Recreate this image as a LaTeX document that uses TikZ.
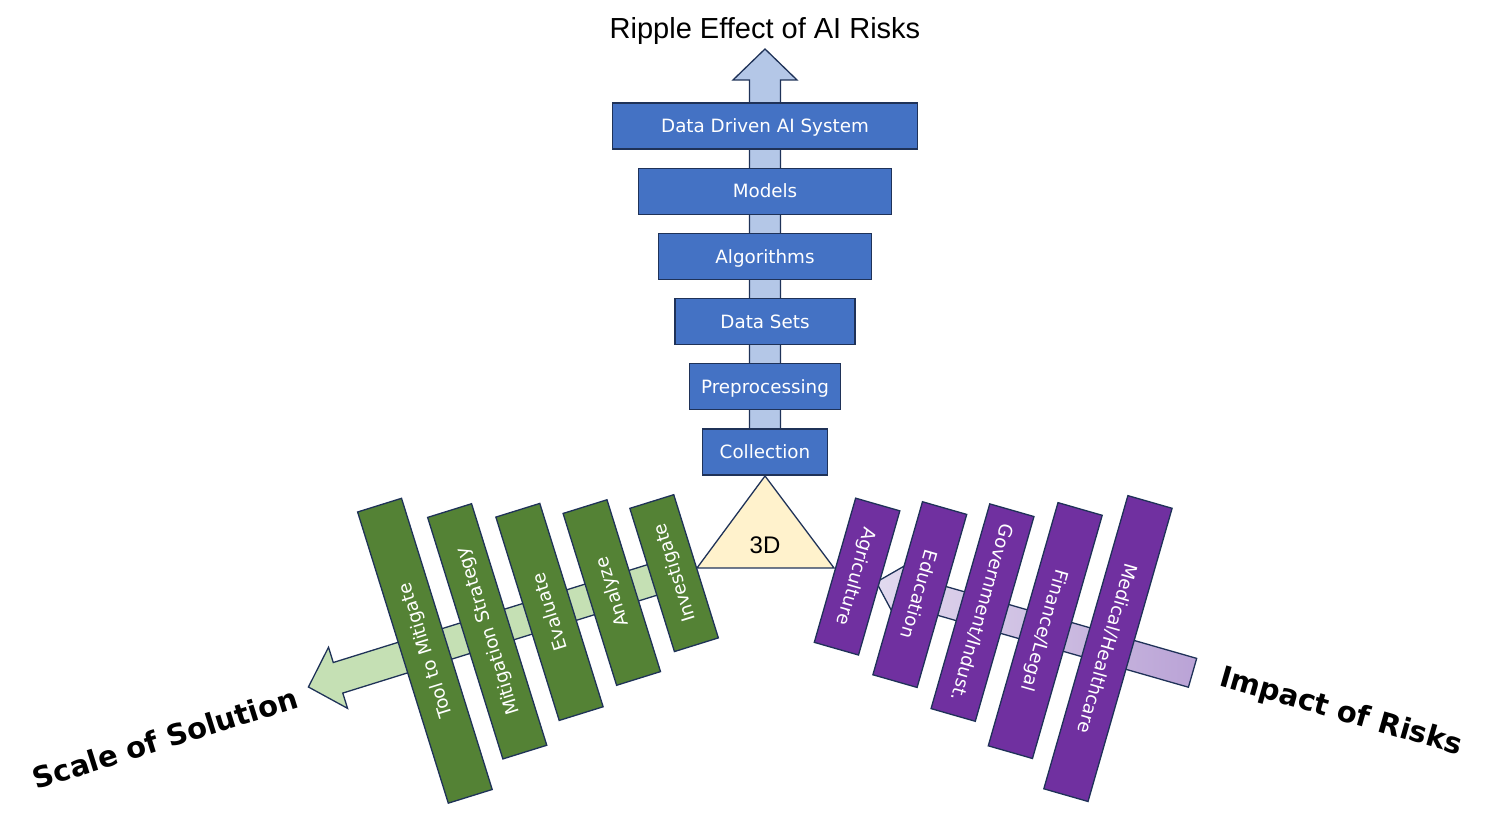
\documentclass[tikz,border=0pt]{standalone}
\usepackage{fontspec}
\setmainfont{Liberation Sans}
\newfontfamily\verdfont{DejaVu Sans}
\usetikzlibrary{positioning}
\definecolor{boxblue}{RGB}{68,114,196}
\definecolor{arrblue}{RGB}{180,199,231}
\definecolor{boxgreen}{RGB}{84,130,53}
\definecolor{arrgreen}{RGB}{197,224,180}
\definecolor{boxpurple}{RGB}{112,48,160}
\definecolor{lavlight}{RGB}{226,218,239}
\definecolor{lavdark}{RGB}{186,163,214}
\definecolor{trifill}{RGB}{255,242,204}
\definecolor{edgenavy}{RGB}{31,50,88}

\begin{document}
\begin{tikzpicture}[x=1pt,y=1pt,
  box/.style={draw=edgenavy, line width=1.3pt, minimum height=46pt, inner sep=0pt, outer sep=0pt,
    text=white, text height=16.5pt, text depth=3.1pt, font=\verdfont\fontsize{18.3}{20}\selectfont},
  blockarrow/.style={draw=edgenavy, line width=1.3pt, line join=miter},
  sidelabel/.style={font=\verdfont\bfseries\fontsize{29}{32}\selectfont}]
\useasboundingbox (0,0) rectangle (1500,821);
% Upward arrow behind the stack
\draw[blockarrow, fill=arrblue] (749.5,350) -- (749.5,741) -- (733,741) -- (765,772)
  -- (797,741) -- (780.5,741) -- (780.5,350) -- cycle;
% Stack of AI system layers
\node[box, fill=boxblue, minimum width=125pt] (collect) at (765,369) {Collection};
\node[box, fill=boxblue, minimum width=151pt, above=19.2pt of collect] (prep) {Preprocessing};
\node[box, fill=boxblue, minimum width=180pt, above=19.2pt of prep] (datasets) {Data Sets};
\node[box, fill=boxblue, minimum width=213pt, above=19.2pt of datasets] (algo) {Algorithms};
\node[box, fill=boxblue, minimum width=253pt, above=19.2pt of algo] (models) {Models};
\node[box, fill=boxblue, minimum width=305pt, above=19.2pt of models] (system) {Data Driven AI System};
\node[font=\fontsize{29}{32}\selectfont] (title) at (765,790) {Ripple Effect of AI Risks};
% Solution side (left)
\begin{scope}[shift={(697,255)}, rotate=197.3]
\draw[blockarrow, fill=arrgreen] (10,-16) -- (376,-16) -- (376,-32) -- (407,0) -- (376,32)
  -- (376,16) -- (10,16) -- cycle;
\foreach \w/\txt [count=\i from 0] in {150/Investigate,180/Analyze,213/Evaluate,
    253/Mitigation Strategy,305/Tool to Mitigate}
  \node[box, fill=boxgreen, transform shape, rotate=-90, minimum width=\w pt] (sol\i)
    at ({24+65.25*\i},0) {\txt};
\end{scope}
% Impact side (right)
\begin{scope}[shift={(834,251)}, rotate=-16]
\draw[blockarrow, left color=lavlight, right color=lavdark] (44,0) -- (75,32) -- (75,15)
  -- (373,15) -- (373,-15) -- (75,-15) -- (75,-32) -- cycle;
\foreach \w/\txt [count=\i from 0] in {150/Agriculture,180/Education,213/{Government/Indust.},
    253/{Finance/Legal},305/{Medical/Healthcare}}
  \node[box, fill=boxpurple, transform shape, rotate=-90, minimum width=\w pt] (imp\i)
    at ({24+65.25*\i},0) {\txt};
\end{scope}
% Center triangle
\coordinate (apex) at (765,345);
\coordinate (baseL) at (697,253);
\coordinate (baseR) at (834,253);
\draw[draw=edgenavy, line width=1.3pt, fill=trifill] (baseL) -- (apex) -- (baseR) -- cycle;
\node[font=\fontsize{24}{26}\selectfont] (threeD) at (765,276) {3D};
% Axis labels
\node[sidelabel, rotate=17.5] (scale) at (165,83) {Scale of Solution};
\node[sidelabel, rotate=-16] (impact) at (1341,108.5) {Impact of Risks};
\end{tikzpicture}
\end{document}
